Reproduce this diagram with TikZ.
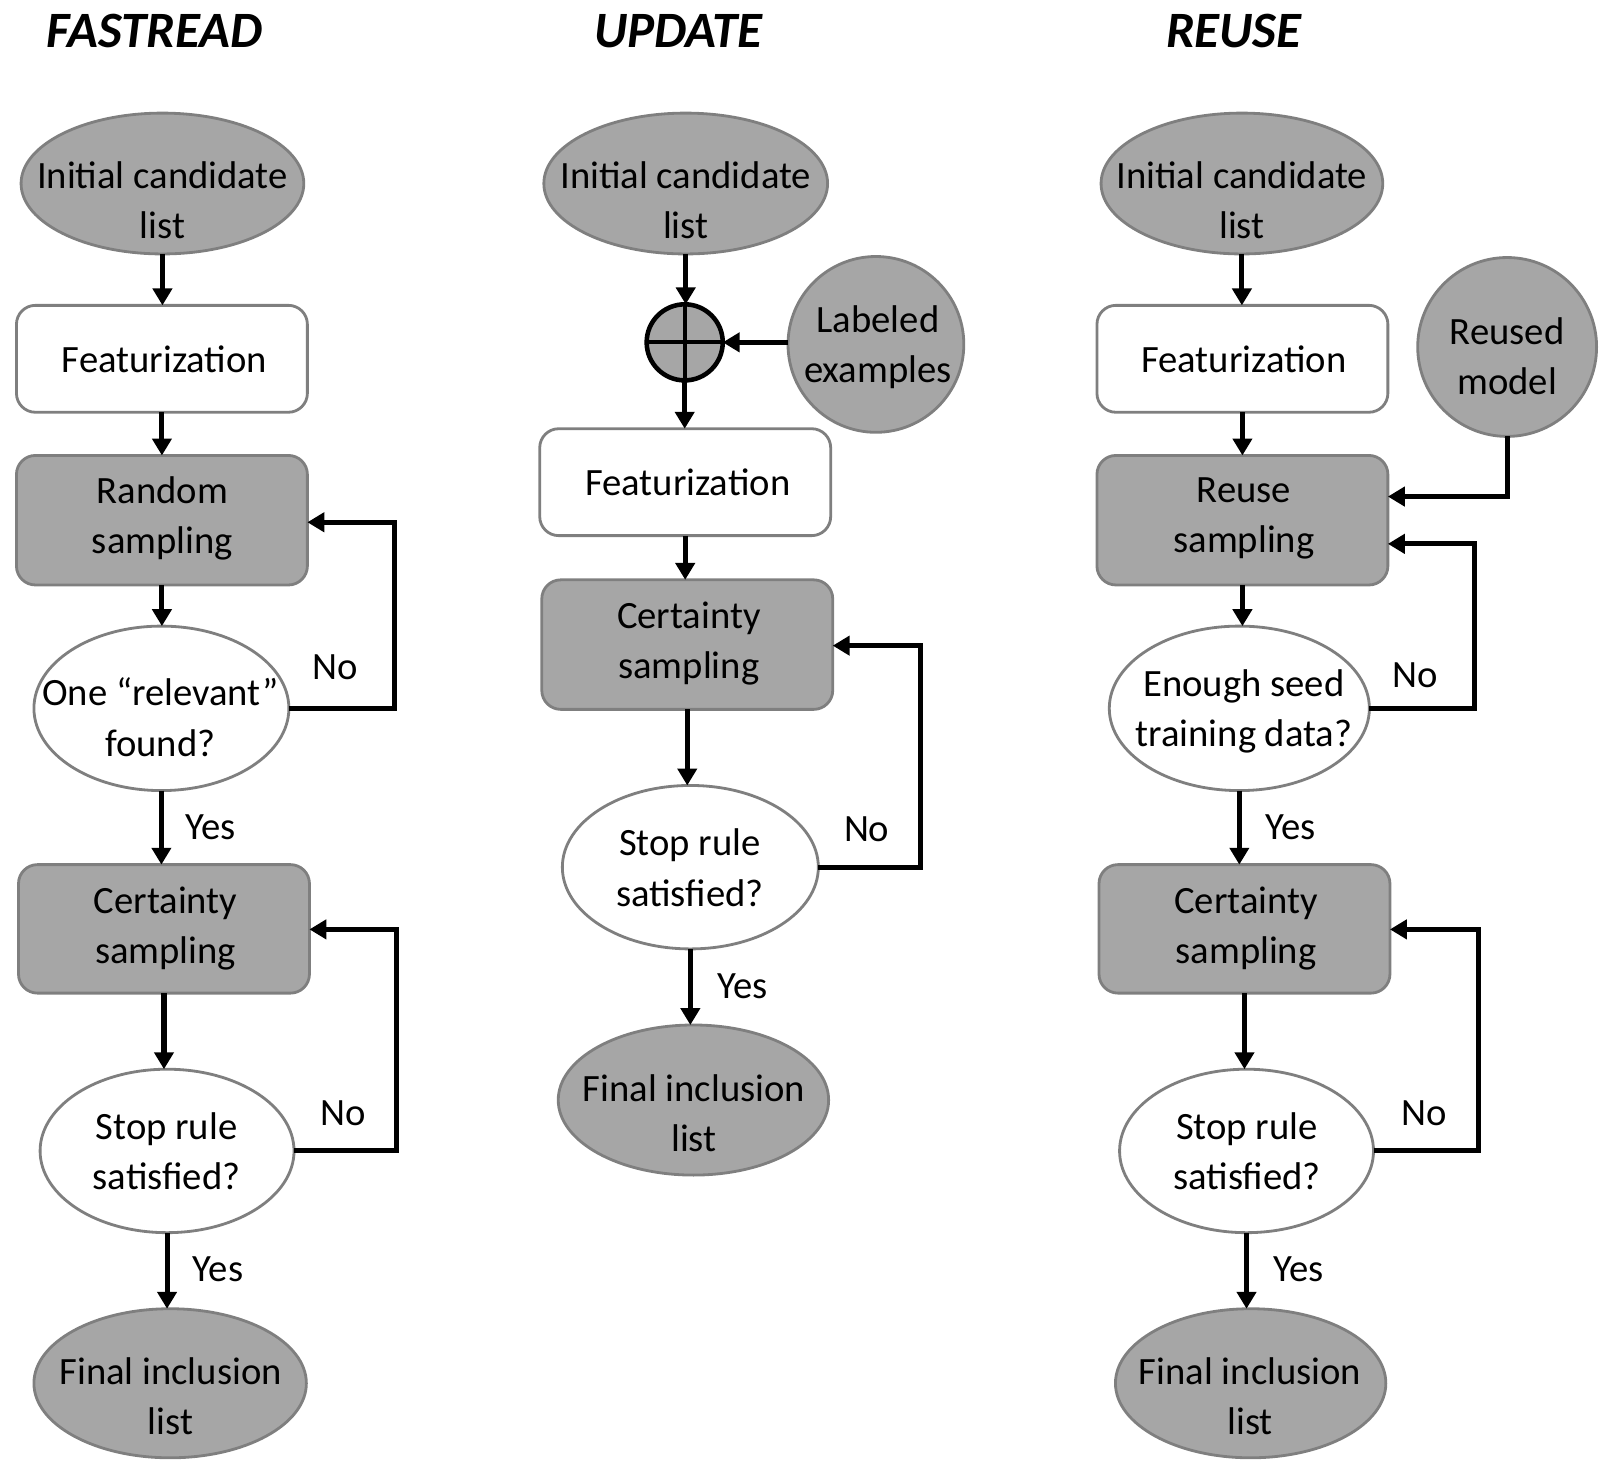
\documentclass[tikz,border=0pt]{standalone}
\usepackage{fontspec}
\setmainfont{Carlito}
\usetikzlibrary{shapes.geometric,arrows.meta}
\definecolor{boxgray}{HTML}{A6A6A6}
\definecolor{edgegray}{HTML}{7F7F7F}
\def\pu{0.01028cm}
\tikzset{
  gfill/.style={fill=boxgray, draw=edgegray, line width=0.8pt},
  wfill/.style={fill=white, draw=edgegray, line width=0.8pt},
  ell/.style={ellipse, inner sep=0pt, outer sep=0pt},
  circ/.style={circle, inner sep=0pt, outer sep=0pt},
  rbox/.style={rectangle, rounded corners=0.19cm, inner sep=0pt, outer sep=0pt, minimum width=283*\pu},
  txt/.style={align=center, font=\fontsize{11}{14.3}\selectfont, inner sep=0pt},
  arr/.style={-{Triangle[length=4.8pt,width=5.4pt]}, line width=1.45pt, black},
  ttl/.style={font=\fontsize{14.5}{18}\selectfont\bfseries\itshape, inner sep=0pt},
}
\begin{document}
\begin{tikzpicture}[x=0.01028cm, y=-0.01028cm]
\useasboundingbox (0,0) rectangle (1568,1435);

% titles
\node[ttl] (t1) at (150,30) {FASTREAD};
\node[ttl] (t2) at (660,30) {UPDATE};
\node[ttl] (t3) at (1200,30) {REUSE};

% ---------- FASTREAD ----------
\node[ell, gfill, minimum width=275*\pu, minimum height=137*\pu] (fi) at (158,178.5) {};
\node[rbox, wfill, minimum height=104*\pu] (ff) at (157.5,349) {};
\node[rbox, gfill, minimum height=126*\pu] (fr) at (157.5,506) {};
\node[ell, wfill, minimum width=248*\pu, minimum height=160*\pu] (fd) at (157,689) {};
\node[rbox, gfill, minimum height=125*\pu] (fc) at (159.5,903.5) {};
\node[ell, wfill, minimum width=247*\pu, minimum height=159*\pu] (fs) at (162.5,1119.5) {};
\node[ell, gfill, minimum width=265*\pu, minimum height=145*\pu] (fe) at (165.5,1345.5) {};

\node[txt] (tfi) at (158,194.5) {Initial candidate\\list};
\node[txt] (tff) at (160,349) {Featurization};
\node[txt] (tfr) at (158,504.5) {Random\\sampling};
\node[txt] (tfd) at (156,697.5) {One “relevant”\\found?};
\node[txt] (tfc) at (161,903) {Certainty\\sampling};
\node[txt] (tfs) at (162,1119.5) {Stop rule\\satisfied?};
\node[txt] (tfe) at (166,1358) {Final inclusion\\list};

\draw[arr] (fi.south) -- (fi.south |- ff.north);
\draw[arr] (ff.south) -- (ff.south |- fr.north);
\draw[arr] (fr.south) -- (fr.south |- fd.north);
\draw[arr] (fd.south) -- (fd.south |- fc.north);
\draw[arr] (fc.south) -- (fc.south |- fs.north);
\draw[arr] (fs.south) -- (fs.south |- fe.north);
\coordinate (fl1) at (384,508);
\coordinate (fl2) at (386,904);
\draw[arr] (fd.east) -| (fl1) -- (fl1 -| fr.east);
\draw[arr] (fs.east) -| (fl2) -- (fl2 -| fc.east);
\node[txt] (fn1) at (326,649) {No};
\node[txt] (fn2) at (334,1083) {No};
\node[txt] (fy1) at (205,805) {Yes};
\node[txt] (fy2) at (212,1235) {Yes};

% ---------- UPDATE ----------
\node[ell, gfill, minimum width=276*\pu, minimum height=137*\pu] (ui) at (667,178.5) {};
\node[circ, fill=boxgray, draw=black, line width=1.3pt, minimum size=74*\pu] (op) at (666,333) {};
\draw[line width=1.2pt] (op.north) -- (op.south);
\draw[line width=1.2pt] (op.west) -- (op.east);
\node[circ, gfill, minimum size=171*\pu] (le) at (852,335) {};
\node[rbox, wfill, minimum height=104*\pu] (uf) at (666.5,469) {};
\node[rbox, gfill, minimum height=126*\pu] (uc) at (668.5,627) {};
\node[ell, wfill, minimum width=249*\pu, minimum height=159*\pu] (us) at (671.5,843.5) {};
\node[ell, gfill, minimum width=263*\pu, minimum height=146*\pu] (ue) at (674.5,1070) {};

\node[txt] (tle) at (854,337.5) {Labeled\\examples};
\node[txt] (tui) at (667,194.5) {Initial candidate\\list};
\node[txt] (tuf) at (669,469) {Featurization};
\node[txt] (tuc) at (670,626) {Certainty\\sampling};
\node[txt] (tus) at (671,844) {Stop rule\\satisfied?};
\node[txt] (tue) at (675,1082.5) {Final inclusion\\list};

\draw[arr] (ui.south) -- (ui.south |- op.north);
\draw[arr] (op.east -| le.west) -- (op.east);
\draw[arr] (op.south) -- (op.south |- uf.north);
\draw[arr] (uf.south) -- (uf.south |- uc.north);
\draw[arr] (uc.south) -- (uc.south |- us.north);
\draw[arr] (us.south) -- (us.south |- ue.north);
\coordinate (ul1) at (895,628);
\draw[arr] (us.east) -| (ul1) -- (ul1 -| uc.east);
\node[txt] (un1) at (843,807) {No};
\node[txt] (uy1) at (722,959) {Yes};

% ---------- REUSE ----------
\node[ell, gfill, minimum width=274*\pu, minimum height=137*\pu] (ri) at (1208,178.5) {};
\node[rbox, wfill, minimum height=104*\pu] (rf) at (1208.5,349) {};
\node[circ, gfill, minimum size=174*\pu] (rm) at (1466,337.5) {};
\node[rbox, gfill, minimum height=126*\pu] (rr) at (1208.5,506) {};
\node[ell, wfill, minimum width=253*\pu, minimum height=160*\pu] (rd) at (1205.5,689) {};
\node[rbox, gfill, minimum height=125*\pu] (rc) at (1210.5,903.5) {};
\node[ell, wfill, minimum width=247*\pu, minimum height=159*\pu] (rs) at (1212.5,1119.5) {};
\node[ell, gfill, minimum width=263*\pu, minimum height=145*\pu] (re) at (1216.5,1345.5) {};

\node[txt] (tri) at (1208,194.5) {Initial candidate\\list};
\node[txt] (trf) at (1210,349) {Featurization};
\node[txt] (trm) at (1466,346.5) {Reused\\model};
\node[txt] (trr) at (1210,504.5) {Reuse\\sampling};
\node[txt] (trd) at (1210,692) {Enough seed\\training data?};
\node[txt] (trc) at (1212,903) {Certainty\\sampling};
\node[txt] (trs) at (1213,1119.5) {Stop rule\\satisfied?};
\node[txt] (tre) at (1216,1358) {Final inclusion\\list};

\draw[arr] (ri.south) -- (ri.south |- rf.north);
\draw[arr] (rf.south) -- (rf.south |- rr.north);
\draw[arr] (rr.south) -- (rr.south |- rd.north);
\draw[arr] (rd.south) -- (rd.south |- rc.north);
\draw[arr] (rc.south) -- (rc.south |- rs.north);
\draw[arr] (rs.south) -- (rs.south |- re.north);
\coordinate (rl0) at (1466,483);
\coordinate (rl1) at (1434,529);
\coordinate (rl2) at (1438,904);
\draw[arr] (rm.south) -- (rl0) -- (rl0 -| rr.east);
\draw[arr] (rd.east) -| (rl1) -- (rl1 -| rr.east);
\draw[arr] (rs.east) -| (rl2) -- (rl2 -| rc.east);
\node[txt] (rn1) at (1377,657) {No};
\node[txt] (rn2) at (1385,1083) {No};
\node[txt] (ry1) at (1255,805) {Yes};
\node[txt] (ry2) at (1263,1235) {Yes};
\end{tikzpicture}
\end{document}
